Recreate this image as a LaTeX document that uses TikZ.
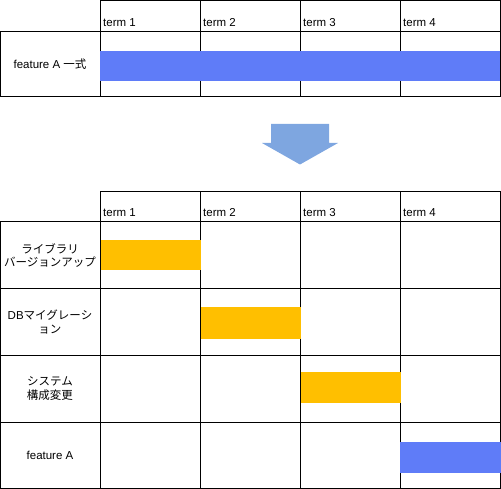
\documentclass[tikz,border=0pt]{standalone}
\usepackage{fontspec}
\setmainfont{Liberation Sans}
\newfontfamily\jp{Noto Sans CJK JP}
\definecolor{barblue}{HTML}{5F7CF8}
\definecolor{barorange}{HTML}{FFBF00}
\definecolor{arrowblue}{HTML}{7EA6E0}
\begin{document}
\begin{tikzpicture}[x=1pt,y=-1pt,
  cell/.style={draw=black,line width=1pt},
  termlbl/.style={anchor=base west,inner sep=0pt,font=\fontsize{11.5}{12}\selectfont},
  rowlbl/.style={align=center,inner sep=0pt,font=\fontsize{11.5}{13.5}\selectfont},
  bar/.style={fill=#1,draw=none}]
\useasboundingbox (0,0) rectangle (501,489);
% ---------- top table ----------
\foreach \i in {1,...,4}{
  \draw[cell] ({100*\i},1) rectangle ({100*\i+100},32);
  \draw[cell] ({100*\i},32) rectangle ({100*\i+100},97);
  \node[termlbl] (ta\i) at ({100*\i+3},27) {term \i};
}
\draw[cell] (0.5,32) rectangle (100,97);
\fill[bar=barblue] (100,51) rectangle (500,81.5);
\node[rowlbl] (fa) at (50,64.5) {feature A {\jp 一式}};
% ---------- arrow ----------
\fill[arrowblue] (271,124) -- (329,124) -- (329,143) -- (338,143) -- (300,164.5) -- (262,143) -- (271,143) -- cycle;
% ---------- bottom table ----------
\def\rows{{222,289,355.5,422,488}}
\foreach \i in {1,...,4}{
  \draw[cell] ({100*\i},192) rectangle ({100*\i+100},222);
  \node[termlbl] (tb\i) at ({100*\i+3},217) {term \i};
}
\foreach \r [count=\k] in {222,289,355.5,422}{
  \pgfmathsetmacro{\rn}{\rows[\k]}
  \draw[cell] (0.5,\r) rectangle (100,\rn);
  \foreach \i in {1,...,4}{
    \draw[cell] ({100*\i},\r) rectangle ({100*\i+100},\rn);
  }
}
\fill[bar=barorange] (100.5,240) rectangle (201,270.5);
\fill[bar=barorange] (201,307.5) rectangle (300.5,338.5);
\fill[bar=barorange] (300.5,372) rectangle (400.5,402.5);
\fill[bar=barblue] (400,442) rectangle (500.5,472.5);
\node[rowlbl] (r1) at (50,255.5) {\jp ライブラリ\\\jp バージョンアップ};
\node[rowlbl] (r2) at (50,322) {DB{\jp マイグレーシ}\\\jp ョン};
\node[rowlbl] (r3) at (50,388.5) {\jp システム\\\jp 構成変更};
\node[rowlbl] (r4) at (50,455) {feature A};
\end{tikzpicture}
\end{document}
